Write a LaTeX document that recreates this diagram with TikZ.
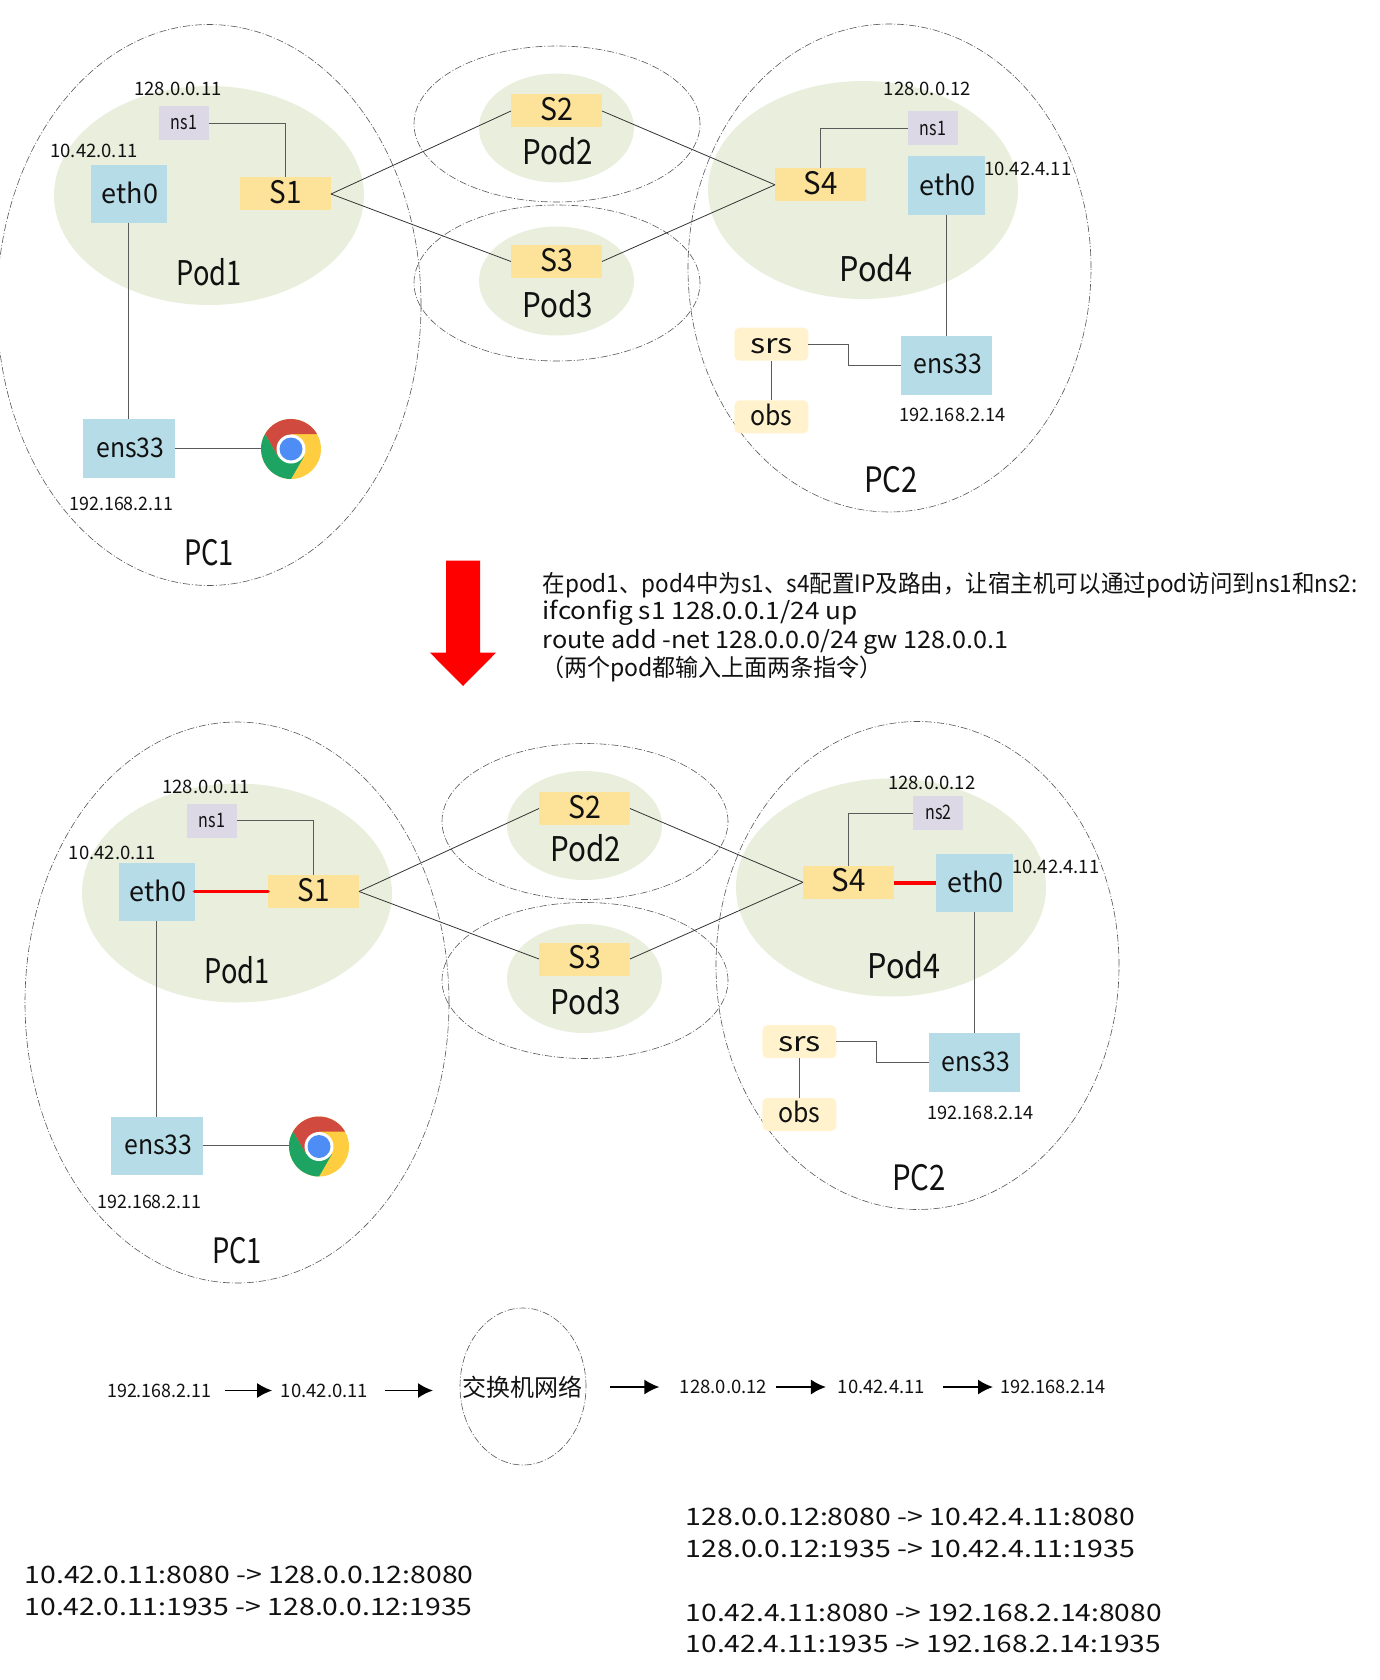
\documentclass[tikz,border=0pt]{standalone}
\usepackage{graphicx}
\usepackage{fontspec}
\setmainfont{Noto Sans CJK SC}
\usetikzlibrary{shapes.geometric,arrows.meta}
\newcommand\fs[1]{\fontsize{#1}{#1}\selectfont}
\newcommand\tight[2]{\scalebox{#1}[1]{#2}}
\newcommand\fitw[2]{\resizebox{#1pt}{\height}{#2}}
\definecolor{podgreen}{HTML}{E9EFDC}
\definecolor{nicblue}{HTML}{B6DCE8}
\definecolor{swyellow}{HTML}{FDE39A}
\definecolor{nspurple}{HTML}{DDD8E6}
\definecolor{appcream}{HTML}{FFF2CC}
\definecolor{dashgray}{HTML}{555555}
\definecolor{linkgray}{HTML}{5A5A5A}
\definecolor{swlink}{HTML}{333333}
\definecolor{txt}{HTML}{111111}
\definecolor{chromeyellow}{HTML}{FFCD40}
\definecolor{chromered}{HTML}{D04A3F}
\definecolor{chromegreen}{HTML}{1DA462}
\definecolor{chromeblue}{HTML}{4E8DF5}
\tikzset{
  every node/.style={inner sep=0pt,outer sep=0pt,text=txt},
  dashell/.style={ellipse,draw=dashgray,line width=.6pt,dash pattern=on 7pt off 2pt on 1pt off 2pt,minimum width=#1},
  podell/.style={ellipse,fill=podgreen,minimum width=#1},
  nicbox/.style={rectangle,fill=nicblue,font=\fs{27},text depth=2pt},
  swbox/.style={rectangle,fill=swyellow,minimum width=91pt,minimum height=33pt,font=\fs{31},text depth=4pt},
  nsbox/.style={rectangle,fill=nspurple,minimum width=50pt,minimum height=34pt,font=\fs{20},text depth=1pt},
  appbox/.style={rectangle,rounded corners=5pt,fill=appcream,minimum width=74pt,minimum height=33pt,font=\fs{27}},
  addr/.style={font=\fs{18.5}},
  podname/.style={font=\fs{34}},
  pcname/.style={font=\fs{35}},
  link/.style={draw=linkgray,line width=.9pt},
  swconn/.style={draw=swlink,line width=.8pt},
  redlink/.style={draw=red,line width=3.6pt},
  flow/.style={draw=black,line width=1.7pt,-{Latex[length=15pt,width=15pt]}},
  cmdline/.style={anchor=base west,font=\fs{24}},
  chromeicon/.pic={
    \begin{scope}[x=1pt,y=1pt]
      \fill[chromeyellow] (0,0) circle (30);
      \fill[chromered] (30:30) arc (30:150:30) -- (-13,-7.5) -- (0,15) -- cycle;
      \fill[chromegreen] (150:30) arc (150:270:30) -- (13,-7.5) -- (-13,-7.5) -- cycle;
      \fill[white] (0,0) circle (14.5);
      \fill[chromeblue] (0,0) circle (11.5);
    \end{scope}
  }
}
% #1 ns label, #2 ns position, #3 ns address position, #4 eth0 address position
\newcommand\diagrampanel[4]{%
  \node[dashell=424pt,minimum height=561pt] (pc1) at (209,305) {};
  \node[dashell=403pt,minimum height=488pt] (pc2) at (889.5,268) {};
  \node[dashell=286pt,minimum height=156pt] (pod2out) at (557,124) {};
  \node[dashell=286pt,minimum height=156pt] (pod3out) at (557,283) {};
  \node[podell=310pt,minimum height=219pt] (pod1) at (209,195.5) {};
  \node[podell=155pt,minimum height=109pt] (pod2) at (556.5,128) {};
  \node[podell=155pt,minimum height=109pt] (pod3) at (556.5,281) {};
  \node[podell=310pt,minimum height=218pt] (pod4) at (863,190) {};
  \node[podname] (pod1t) at (209,272.5) {\tight{.8}{Pod1}};
  \node[podname] (pod2t) at (558,151) {\tight{.87}{Pod2}};
  \node[podname] (pod3t) at (558,304) {\tight{.87}{Pod3}};
  \node[podname] (pod4t) at (876,268) {\tight{.9}{Pod4}};
  \node[pcname] (pc1t) at (209,553) {\tight{.78}{PC1}};
  \node[pcname] (pc2t) at (891,480) {\tight{.84}{PC2}};
  \node[nicbox,minimum width=76pt,minimum height=58pt] (eth1) at (128.5,194) {\hspace*{3pt}eth0};
  \node[nicbox,minimum width=76.5pt,minimum height=58.7pt] (eth4) at (946.3,185.4) {\hspace*{3pt}eth0};
  \node[nicbox,minimum width=91.5pt,minimum height=58.6pt] (ens1) at (128.8,448.3) {\hspace*{3pt}\tight{.92}{ens33}};
  \node[nicbox,minimum width=91.5pt,minimum height=59pt] (ens4) at (946.4,365.1) {\hspace*{3pt}\tight{.92}{ens33}};
  \node[swbox] (s1) at (285.5,194) {\tight{.9}{S1}};
  \node[swbox] (s2) at (556.5,111) {\tight{.92}{S2}};
  \node[swbox] (s3) at (556.5,261.5) {\tight{.92}{S3}};
  \node[swbox] (s4) at (820.5,184.8) {\tight{.95}{S4}};
  \node[nsbox] (nsa) at (184,123) {\tight{.8}{ns1}};
  \node[nsbox] (nsb) at #2 {\tight{.8}{#1}};
  \node[appbox] (srs) at (771.4,344.2) {\raisebox{-2pt}[\height][\depth]{\tight{1.2}{srs}}};
  \node[appbox] (obs) at (771.4,416.8) {\raisebox{2pt}[\height][\depth]{\tight{.92}{obs}}};
  \node[circle,minimum size=60pt] (chrome) at (291,449) {};
  \pic at (chrome.center) {chromeicon};
  \node[addr] (a1) at (178,89) {128.0.0.11};
  \node[addr] (a2) at #4 {10.42.0.11};
  \node[addr] (a3) at (121.5,504) {\fitw{104}{192.168.2.11}};
  \node[addr] (a4) at #3 {128.0.0.12};
  \node[addr] (a5) at (1027.7,169) {10.42.4.11};
  \node[addr] (a6) at (952.5,415) {\fitw{106}{192.168.2.14}};
  \draw[link] (nsa.east) -| (s1.north);
  \draw[link] (nsb.west) -| (s4.north);
  \draw[link] (eth1.south) -- (eth1.south |- ens1.north);
  \draw[link] (eth4.south) -- (eth4.south |- ens4.north);
  \draw[link] (ens1.east) -- (ens1.east -| chrome.west);
  \draw[link] (srs.east) -- ++(40,0) |- (ens4.west);
  \draw[link] (srs.south) -- (obs.north);
  \draw[swconn] (s1.east) -- (s2.west);
  \draw[swconn] (s1.east) -- (s3.west);
  \draw[swconn] (s2.east) -- (s4.west);
  \draw[swconn] (s3.east) -- (s4.west);
}
\begin{document}
\begin{tikzpicture}[x=1pt,y=-1pt]
\useasboundingbox (0,0) rectangle (1379,1680);
\begin{scope}[name prefix=u-]
  \diagrampanel{ns1}{(933,128.5)}{(927.4,89.3)}{(94,151)}
\end{scope}
\begin{scope}[shift={(28,697.5)},name prefix=d-]
  \diagrampanel{ns2}{(910.3,115.5)}{(903.7,85.8)}{(84.5,155.5)}
  \draw[redlink,line cap=round] (d-eth1.east) -- (d-s1.west);
  \draw[redlink] (d-eth4.west) -- (d-eth4.west -| d-s4.east);
\end{scope}
% big arrow
\fill[red] (446,560.5) -- (480,560.5) -- (480,652.7) -- (496,652.7) -- (463,686) -- (430,652.7) -- (446,652.7) -- cycle;
% commands
\node[cmdline] (c1) at (542.7,592) {\fitw{815}{在pod1、pod4中为s1、s4配置IP及路由，让宿主机可以通过pod访问到ns1和ns2:}};
\node[cmdline] (c2) at (542.7,619) {\fitw{315}{ifconfig s1 128.0.0.1/24 up}};
\node[cmdline] (c3) at (542.7,648.5) {\fitw{466}{route add -net 128.0.0.0/24 gw 128.0.0.1}};
\node[cmdline] (c4) at (541,676) {\fitw{342}{（两个pod都输入上面两条指令）}};
% flow row
\node[addr] (l1) at (159.2,1390.5) {\fitw{104}{192.168.2.11}};
\node[addr] (l2) at (324.5,1390.5) {10.42.0.11};
\node[dashell=126pt,minimum height=157pt] (sw) at (523,1386.5) {};
\node[font=\fs{24}] (swt) at (522,1387) {交换机网络};
\node[addr] (l3) at (723.6,1387) {128.0.0.12};
\node[addr] (l4) at (881.4,1387) {10.42.4.11};
\node[addr] (l5) at (1053,1387) {\fitw{106}{192.168.2.14}};
\draw[flow,shorten <=14pt,shorten >=8.7pt] (l1.east) -- (l2.west);
\draw[flow,shorten <=17pt,shorten >=27pt] (l2.east) -- (l2.east -| sw.west);
\draw[flow,shorten <=24pt,shorten >=20.6pt] (l3.west -| sw.east) -- (l3.west);
\draw[flow,shorten <=9pt,shorten >=11.8pt] (l3.east) -- (l4.west);
\draw[flow,shorten <=18pt,shorten >=7pt] (l4.east) -- (l5.west);
% port mappings
\node[cmdline] (m1) at (24.6,1583.5) {\fitw{449}{10.42.0.11:8080 -> 128.0.0.12:8080}};
\node[cmdline] (m2) at (24.6,1615) {\fitw{448}{10.42.0.11:1935 -> 128.0.0.12:1935}};
\node[cmdline] (m3) at (685.8,1525) {\fitw{449}{128.0.0.12:8080 -> 10.42.4.11:8080}};
\node[cmdline] (m4) at (685.8,1557.5) {\fitw{449}{128.0.0.12:1935 -> 10.42.4.11:1935}};
\node[cmdline] (m5) at (685.8,1621) {\fitw{476}{10.42.4.11:8080 -> 192.168.2.14:8080}};
\node[cmdline] (m6) at (685.8,1652) {\fitw{475}{10.42.4.11:1935 -> 192.168.2.14:1935}};
\end{tikzpicture}
\end{document}
